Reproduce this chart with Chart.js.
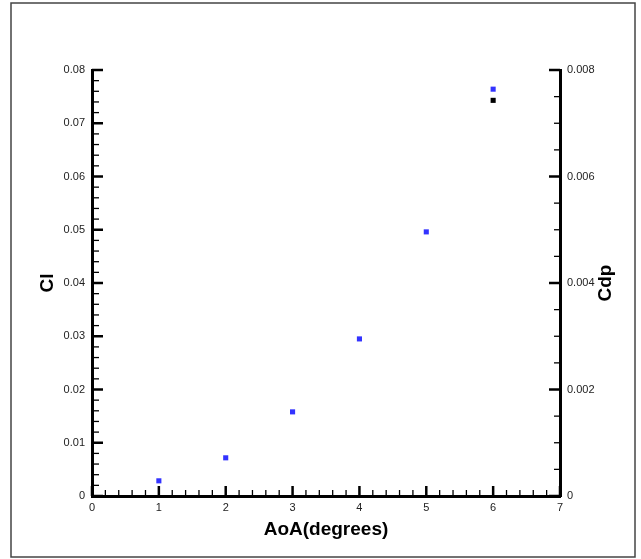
<!DOCTYPE html>
<html>
<head>
<meta charset="utf-8">
<script src="https://cdn.jsdelivr.net/npm/chart.js@4/dist/chart.umd.min.js"></script>
<style>
  html, body { margin: 0; padding: 0; background: #fff; }
  #wrap { position: relative; width: 641px; height: 559px; }
</style>
</head>
<body>
<div id="wrap"><canvas id="aoa-chart" width="641" height="559"></canvas></div>
<script>
// data
const aoa = [1, 2, 3, 4, 5, 6];
const clValues = [0.00285, 0.00717, 0.0158, 0.0295, 0.0496, 0.0764];
const cdpAoa = [6];
const cdpValues = [0.00743];

const xTicks = [0, 1, 2, 3, 4, 5, 6, 7];
const clTicks = [0, 0.01, 0.02, 0.03, 0.04, 0.05, 0.06, 0.07, 0.08];
const cdpTicks = [0, 0.002, 0.004, 0.006, 0.008];

const labelFont = { family: 'Liberation Sans, Arial, sans-serif', size: 11 };
const titleFont = { family: 'Liberation Sans, Arial, sans-serif', size: 19, weight: 'bold' };

// inward major / minor tick marks, plus frame and right title
const axisDecor = {
	id: 'axisDecor',
	afterDraw(chart) {
		const c = chart.ctx;
		const area = chart.chartArea;
		const x = chart.scales.x, yl = chart.scales.y, yr = chart.scales.y2;

		c.save();
		c.strokeStyle = '#000';

		function tick(x1, y1, x2, y2, w) {
			c.lineWidth = w;
			c.beginPath();
			c.moveTo(x1, y1);
			c.lineTo(x2, y2);
			c.stroke();
		}

		// x axis: major every 1, 4 minors between
		for (let i = 0; i < xTicks.length; i++) {
			const px = x.getPixelForValue(xTicks[i]);
			tick(px, area.bottom, px, area.bottom - 10, 2.5);
			if (i < xTicks.length - 1) {
				for (let k = 1; k < 5; k++) {
					const mx = x.getPixelForValue(xTicks[i] + k * 0.2);
					tick(mx, area.bottom, mx, area.bottom - 6, 1.3);
				}
			}
		}
		// left axis
		for (let i = 0; i < clTicks.length; i++) {
			const py = yl.getPixelForValue(clTicks[i]);
			tick(area.left, py, area.left + 11, py, 2.5);
			if (i < clTicks.length - 1) {
				for (let k = 1; k < 5; k++) {
					const my = yl.getPixelForValue(clTicks[i] + k * 0.002);
					tick(area.left, my, area.left + 7, my, 1.3);
				}
			}
		}
		// right axis
		for (let i = 0; i < cdpTicks.length; i++) {
			const py = yr.getPixelForValue(cdpTicks[i]);
			tick(area.right, py, area.right - 11, py, 2.5);
			if (i < cdpTicks.length - 1) {
				for (let k = 1; k < 4; k++) {
					const my = yr.getPixelForValue(cdpTicks[i] + k * 0.0005);
					tick(area.right, my, area.right - 6, my, 1.3);
				}
			}
		}

		// outer frame
		c.strokeStyle = '#444';
		c.lineWidth = 1.5;
		c.strokeRect(11, 3, 624, 554);

		// right axis title reads bottom to top like the left one
		c.fillStyle = '#000';
		c.font = 'bold 19px Liberation Sans, Arial, sans-serif';
		c.textAlign = 'center';
		c.textBaseline = 'middle';
		c.translate(606, (area.top + area.bottom) / 2);
		c.rotate(-Math.PI / 2);
		c.fillText('Cdp', 0, 0);
		c.restore();
	}
};

new Chart(document.getElementById('aoa-chart'), {
	type: 'scatter',
	data: {
		datasets: [{
			label: 'Cdp',
			data: cdpAoa.map((a, i) => ({ x: a, y: cdpValues[i] })),
			yAxisID: 'y2',
			pointStyle: 'rect',
			pointRadius: 3.6,
			borderWidth: 0,
			backgroundColor: '#000',
			borderColor: '#000'
		}, {
			label: 'Cl',
			data: aoa.map((a, i) => ({ x: a, y: clValues[i] })),
			yAxisID: 'y',
			pointStyle: 'rect',
			pointRadius: 3.6,
			borderWidth: 0,
			backgroundColor: '#3333ff',
			borderColor: '#3333ff'
		}]
	},
	options: {
		responsive: false,
		animation: false,
		devicePixelRatio: 1,
		layout: { padding: { top: 70, left: 0, right: 0, bottom: 0 } },
		plugins: { legend: { display: false }, tooltip: { enabled: false } },
		scales: {
			x: {
				type: 'linear',
				min: 0, max: 7,
				afterBuildTicks: s => { s.ticks = xTicks.map(v => ({ value: v })); },
				afterFit: s => { s.height = 63; },
				grid: { display: false, drawTicks: false, tickLength: 0 },
				border: { display: true, width: 3, color: '#000' },
				ticks: { font: labelFont, color: '#222', padding: 5, maxRotation: 0, autoSkip: false },
				title: { display: true, text: 'AoA(degrees)', font: titleFont, color: '#000', padding: { top: 0, bottom: 18 } }
			},
			y: {
				type: 'linear',
				position: 'left',
				min: 0, max: 0.08,
				afterBuildTicks: s => { s.ticks = clTicks.map(v => ({ value: v })); },
				afterFit: s => { s.width = 92; },
				grid: { display: false, drawTicks: false, tickLength: 0 },
				border: { display: true, width: 3, color: '#000' },
				ticks: { font: labelFont, color: '#222', padding: 7, autoSkip: false },
				title: { display: true, text: 'Cl', font: titleFont, color: '#000', padding: { top: 36, bottom: 0 } }
			},
			y2: {
				type: 'linear',
				position: 'right',
				min: 0, max: 0.008,
				afterBuildTicks: s => { s.ticks = cdpTicks.map(v => ({ value: v })); },
				afterFit: s => { s.width = 81; },
				grid: { display: false, drawTicks: false, tickLength: 0 },
				border: { display: true, width: 3, color: '#000' },
				ticks: { font: labelFont, color: '#222', padding: 7, autoSkip: false }
			}
		}
	},
	plugins: [axisDecor]
});
</script>
</body>
</html>
